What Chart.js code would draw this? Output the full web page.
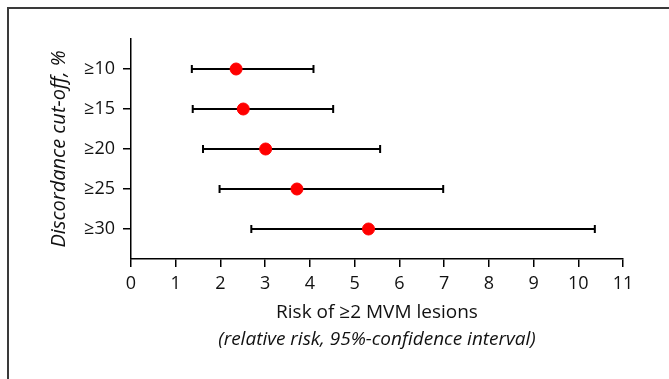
<!DOCTYPE html>
<html>
<head>
<meta charset="utf-8">
<script src="https://cdn.jsdelivr.net/npm/chart.js@4"></script>
<style>
  html, body { margin: 0; padding: 0; background: #fff; }
  #wrap { position: relative; width: 669px; height: 379px; }
  canvas { display: block; }
</style>
</head>
<body>
<div id="wrap"><canvas id="c" width="669" height="379"></canvas></div>
<script>
const categories = ["≥10", "≥15", "≥20", "≥25", "≥30"];
const relativeRisk = [2.35, 2.51, 3.01, 3.71, 5.31];
const ciLower = [1.36, 1.38, 1.61, 1.98, 2.69];
const ciUpper = [4.08, 4.52, 5.57, 6.98, 10.37];
const xTicks = [0, 1, 2, 3, 4, 5, 6, 7, 8, 9, 10, 11];
const xTitleLine1 = "Risk of ≥2 MVM lesions";
const xTitleLine2 = "(relative risk, 95%-confidence interval)";
const yTitle = "Discordance cut-off, %";

const FONT = "'Open Sans', 'DejaVu Sans', sans-serif";

const framePlugin = {
  id: 'frame',
  beforeDraw(chart) {
    const ctx = chart.ctx;
    ctx.save();
    ctx.fillStyle = '#fff';
    ctx.fillRect(0, 0, chart.width, chart.height);
    ctx.strokeStyle = '#3a3a3a';
    ctx.lineWidth = 2;
    ctx.beginPath();
    ctx.moveTo(8, chart.height);
    ctx.lineTo(8, 8);
    ctx.lineTo(chart.width, 8);
    ctx.stroke();
    ctx.restore();
  }
};

const errorBarPlugin = {
  id: 'errorBars',
  beforeDatasetsDraw(chart) {
    const ctx = chart.ctx;
    const xs = chart.scales.x, ys = chart.scales.y;
    ctx.save();
    ctx.strokeStyle = '#000';
    ctx.lineWidth = 2;
    categories.forEach((c, i) => {
      const y = ys.getPixelForValue(i + 1);
      const x1 = xs.getPixelForValue(ciLower[i]);
      const x2 = xs.getPixelForValue(ciUpper[i]);
      ctx.beginPath();
      ctx.moveTo(x1, y); ctx.lineTo(x2, y);
      ctx.moveTo(x1, y - 4); ctx.lineTo(x1, y + 4);
      ctx.moveTo(x2, y - 4); ctx.lineTo(x2, y + 4);
      ctx.stroke();
    });
    ctx.restore();
  },
  afterDraw(chart) {
    const ctx = chart.ctx;
    const a = chart.chartArea;
    ctx.save();
    ctx.fillStyle = '#111';
    ctx.font = 'italic 19px ' + FONT;
    ctx.textAlign = 'center';
    ctx.textBaseline = 'middle';
    ctx.fillText(xTitleLine2, (a.left + a.right) / 2, 340);
    ctx.restore();
  }
};

new Chart(document.getElementById('c'), {
  type: 'scatter',
  data: {
    datasets: [{
      data: relativeRisk.map((v, i) => ({ x: v, y: i + 1 })),
      backgroundColor: '#ff0000',
      borderColor: '#ff0000',
      pointRadius: 6,
      pointHoverRadius: 6
    }]
  },
  options: {
    responsive: false,
    animation: false,
    events: [],
    layout: { padding: { top: 39, right: 46, left: 0, bottom: 0 } },
    plugins: { legend: { display: false }, tooltip: { enabled: false } },
    scales: {
      x: {
        type: 'linear',
        min: xTicks[0],
        max: xTicks[xTicks.length - 1],
        afterBuildTicks: s => { s.ticks = xTicks.map(v => ({ value: v })); },
        afterFit: s => { s.height = 120; },
        grid: { drawOnChartArea: false, drawTicks: true, tickLength: 8, color: '#000', lineWidth: 1.5 },
        border: { display: true, color: '#000', width: 1.5 },
        ticks: { color: '#111', font: { family: FONT, size: 18 }, padding: 6, maxRotation: 0 },
        title: {
          display: true, text: xTitleLine1, color: '#111',
          font: { family: FONT, size: 19 }, padding: { top: 0, bottom: 55 }
        }
      },
      y: {
        type: 'linear',
        reverse: true,
        min: 0.25,
        max: categories.length + 0.75,
        afterBuildTicks: s => { s.ticks = categories.map((c, i) => ({ value: i + 1 })); },
        afterFit: s => { s.width = 131; },
        grid: { drawOnChartArea: false, drawTicks: true, tickLength: 8, color: '#000', lineWidth: 1.5 },
        border: { display: true, color: '#000', width: 1.5 },
        ticks: {
          color: '#111', font: { family: FONT, size: 18 }, padding: 8,
          callback: v => categories[Math.round(v) - 1]
        },
        title: {
          display: true, text: yTitle, color: '#111',
          font: { family: FONT, size: 20, style: 'italic' }, padding: { top: 47, bottom: 0 }
        }
      }
    }
  },
  plugins: [framePlugin, errorBarPlugin]
});
</script>
</body>
</html>
